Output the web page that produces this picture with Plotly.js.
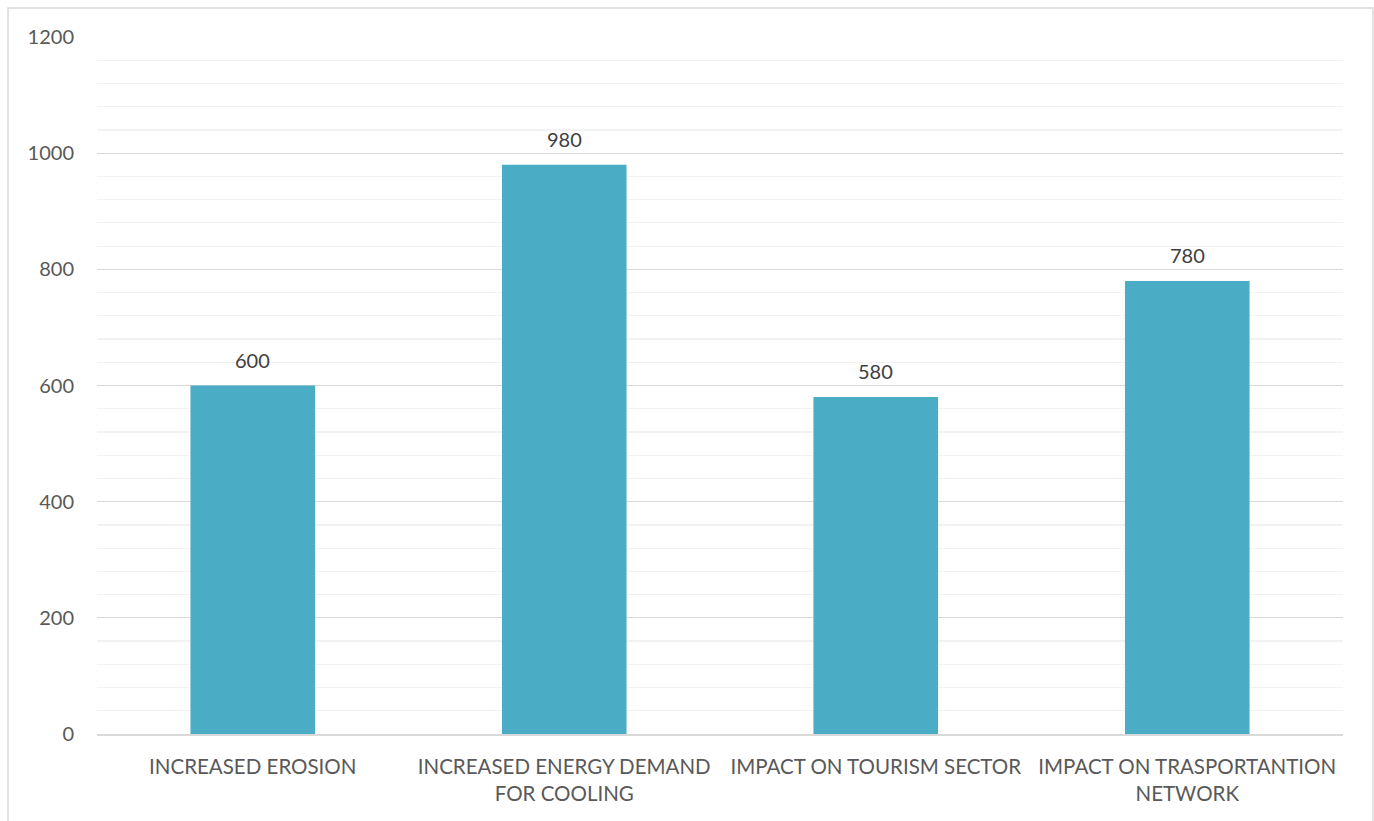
<!DOCTYPE html>
<html>
<head>
<meta charset="utf-8">
<script src="https://cdn.plot.ly/plotly-3.0.1.min.js"></script>
<style>html,body{margin:0;padding:0;background:#fff;}#chart{width:1374px;height:821px;}</style>
</head>
<body>
<div id="chart"></div>
<script>
const categories = ["INCREASED EROSION", "INCREASED ENERGY DEMAND<br>FOR COOLING", "IMPACT ON TOURISM SECTOR", "IMPACT ON TRASPORTANTION<br>NETWORK"];
const values = [600, 980, 580, 780];
const yTicks = [0, 200, 400, 600, 800, 1000, 1200];

const FONT = "Lato, 'Open Sans', sans-serif";

const trace = {
  type: "bar",
  x: categories,
  y: values,
  marker: {color: "#4BACC6"},
  width: 0.4,
  hoverinfo: "x+y"
};

const annotations = categories.map((c, i) => ({
  x: c, y: values[i], xref: "x", yref: "y",
  text: String(values[i]), showarrow: false,
  yanchor: "bottom", yshift: 12,
  font: {family: FONT, size: 20, color: "#404040"}
}));

const layout = {
  width: 1374, height: 821,
  margin: {l: 97, r: 31, t: 37, b: 87},
  paper_bgcolor: "#fff", plot_bgcolor: "#fff",
  showlegend: false,
  bargap: 0.6,
  font: {family: FONT, size: 20, color: "#595959"},
  xaxis: {
    type: "category",
    showgrid: false,
    showline: true, linecolor: "#D9D9D9", linewidth: 1.5,
    ticks: "", ticklabelstandoff: 14,
    tickfont: {family: FONT, size: 20.5, color: "#595959"},
    zeroline: false
  },
  yaxis: {
    range: [0, 1200],
    tickvals: yTicks,
    ticktext: yTicks.map(String),
    showgrid: true, gridcolor: "#D9D9D9", gridwidth: 1.2,
    minor: {dtick: 40, tick0: 0, showgrid: true, gridcolor: "#F2F2F2", gridwidth: 1.2, ticks: ""},
    showline: false, zeroline: false,
    ticks: "", ticklabelstandoff: 22,
    tickfont: {family: FONT, size: 20, color: "#595959"}
  },
  annotations: annotations,
  shapes: [{
    type: "rect", xref: "paper", yref: "paper",
    x0: (8 - 97) / 1246, x1: (1373 - 97) / 1246,
    y0: -0.3, y1: (734 - 8) / 697,
    line: {color: "#D9D9D9", width: 1.5}, fillcolor: "rgba(0,0,0,0)", layer: "below"
  }]
};

Plotly.newPlot("chart", [trace], layout, {displayModeBar: false, staticPlot: true});
</script>
</body>
</html>
